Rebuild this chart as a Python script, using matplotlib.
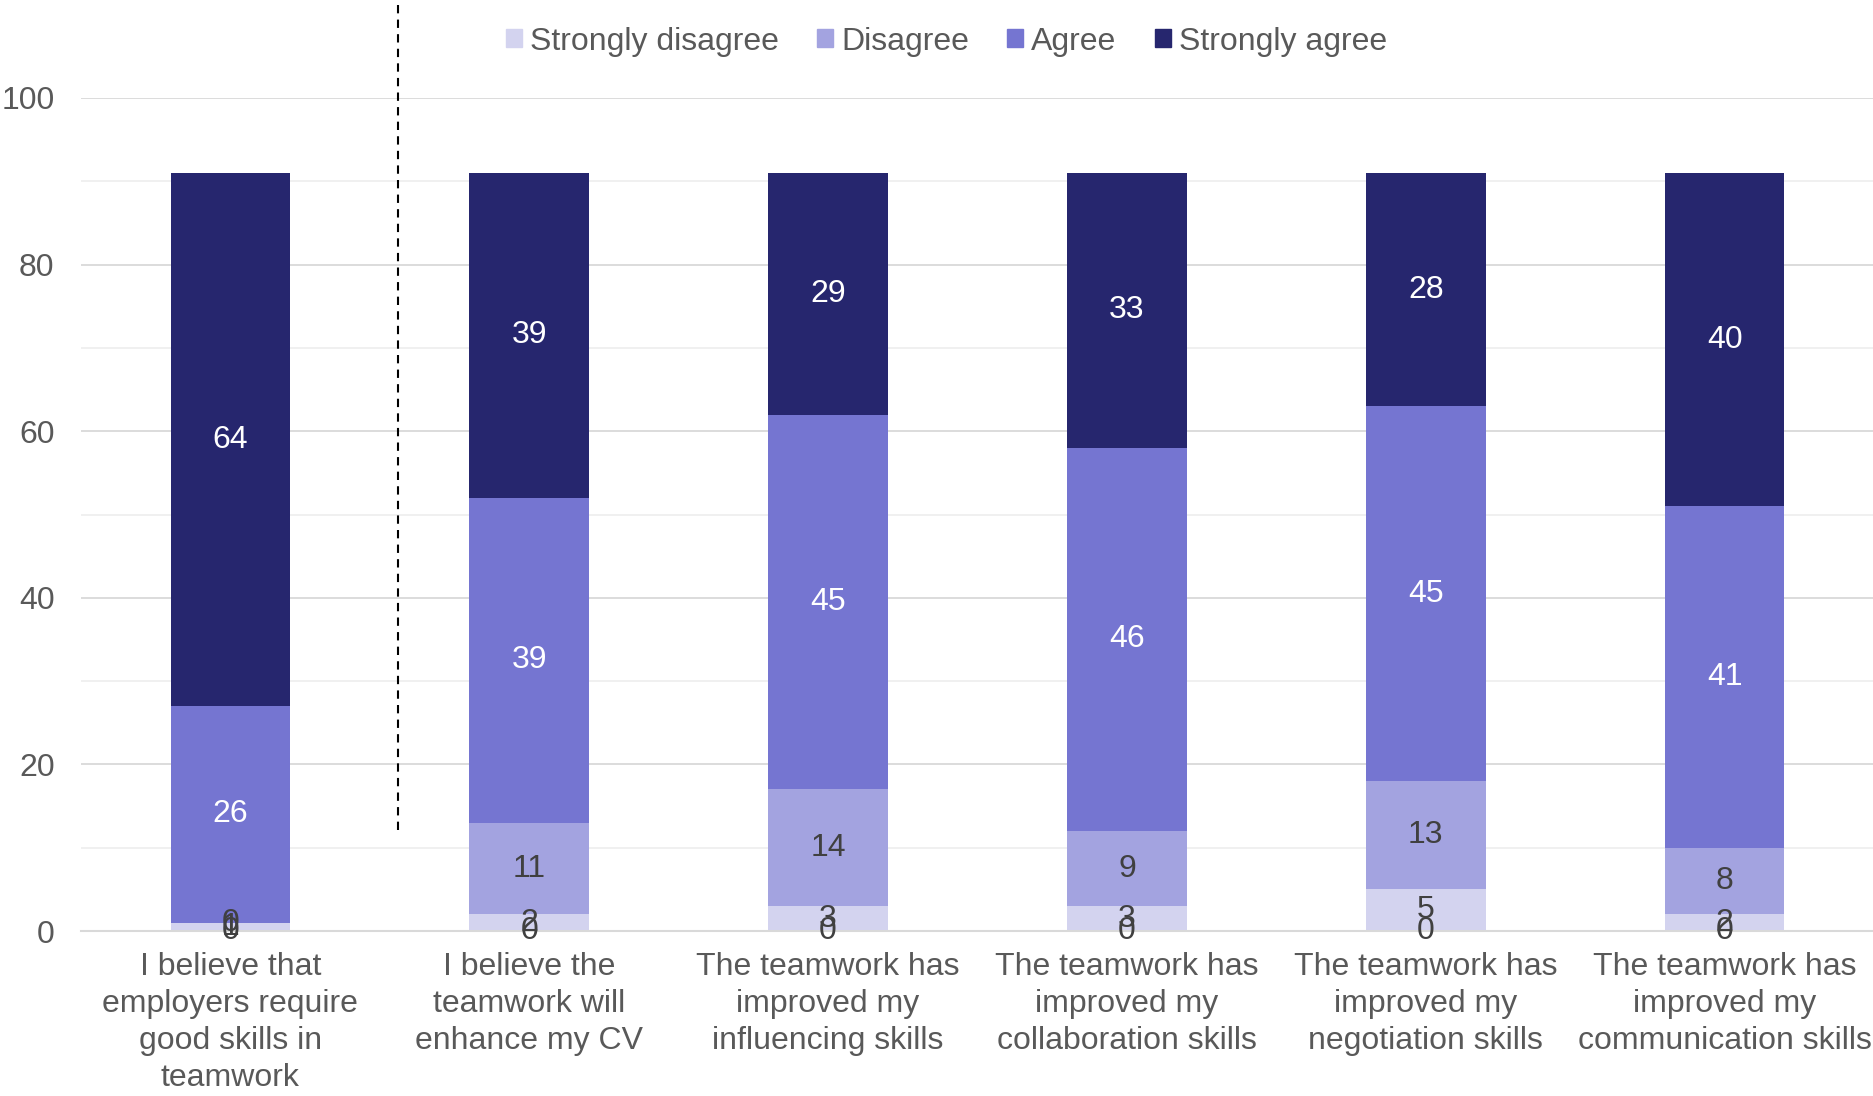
import numpy as np
import matplotlib
matplotlib.use("Agg")
import matplotlib.pyplot as plt
from matplotlib.patches import Patch

plt.rcParams['font.family'] = ['Liberation Sans', 'DejaVu Sans']

categories = [
    "I believe that\nemployers require\ngood skills in\nteamwork",
    "I believe the\nteamwork will\nenhance my CV",
    "The teamwork has\nimproved my\ninfluencing skills",
    "The teamwork has\nimproved my\ncollaboration skills",
    "The teamwork has\nimproved my\nnegotiation skills",
    "The teamwork has\nimproved my\ncommunication skills",
]
# unnamed series with zero values (labelled "0" at the base, not in legend)
no_answer = [0, 0, 0, 0, 0, 0]
strongly_disagree = [1, 2, 3, 3, 5, 2]
disagree = [0, 11, 14, 9, 13, 8]
agree = [26, 39, 45, 46, 45, 41]
strongly_agree = [64, 39, 29, 33, 28, 40]

series_names = ["", "Strongly disagree", "Disagree", "Agree", "Strongly agree"]
series_vals = [no_answer, strongly_disagree, disagree, agree, strongly_agree]
colors = ["#d3d3ef", "#d3d3ef", "#a3a3e0", "#7575d1", "#26266e"]
label_colors = ["#404040", "#404040", "#404040", "white", "white"]

fs = 23

fig = plt.figure(figsize=(18.74, 10.96), dpi=100)
ax = fig.add_axes([0.0432, 0.1505, 0.9568, 0.7601])

x = np.arange(len(categories))
bottom = np.zeros(len(categories))
for name, vals, c, lc in zip(series_names, series_vals, colors, label_colors):
    vals = np.array(vals, dtype=float)
    ax.bar(x, vals, 0.4, bottom=bottom, color=c, zorder=2)
    for xi, b, v in zip(x, bottom, vals):
        ax.text(xi, b + v / 2, f"{int(v)}", ha="center", va="center",
                fontsize=fs, color=lc, zorder=3)
    bottom += vals

ax.set_xlim(-0.5, 5.5)
ax.set_ylim(0, 100)
ax.set_yticks(np.arange(0, 101, 20))
ax.set_yticks(np.arange(10, 100, 20), minor=True)
ax.grid(axis="y", which="major", color="#d9d9d9", lw=1.3, zorder=0)
ax.grid(axis="y", which="minor", color="#efefef", lw=1.3, zorder=0)
ax.tick_params(axis="y", which="both", length=0, labelsize=fs, labelcolor="#595959", pad=19)
ax.set_xticks(x)
ax.set_xticklabels(categories, fontsize=fs, color="#595959", linespacing=1.3)
ax.tick_params(axis="x", length=0, pad=15)
for s in ["top", "right", "left"]:
    ax.spines[s].set_visible(False)
ax.spines["bottom"].set_color("#d9d9d9")
ax.spines["bottom"].set_linewidth(1.5)

# dashed separator
ax.plot([0.56, 0.56], [12.1, 112], ls=(0, (4, 3)), color="black", lw=1.5,
        clip_on=False, zorder=4)

handles = [Patch(color=c) for c in colors[1:]]
fig.legend(handles, series_names[1:], loc="center", bbox_to_anchor=(0.505, 0.962),
           ncol=4, frameon=False, fontsize=fs, labelcolor="#595959",
           handlelength=0.5, handleheight=0.5, handletextpad=0.25, columnspacing=1.2)

fig.savefig("out.png", dpi=100)
